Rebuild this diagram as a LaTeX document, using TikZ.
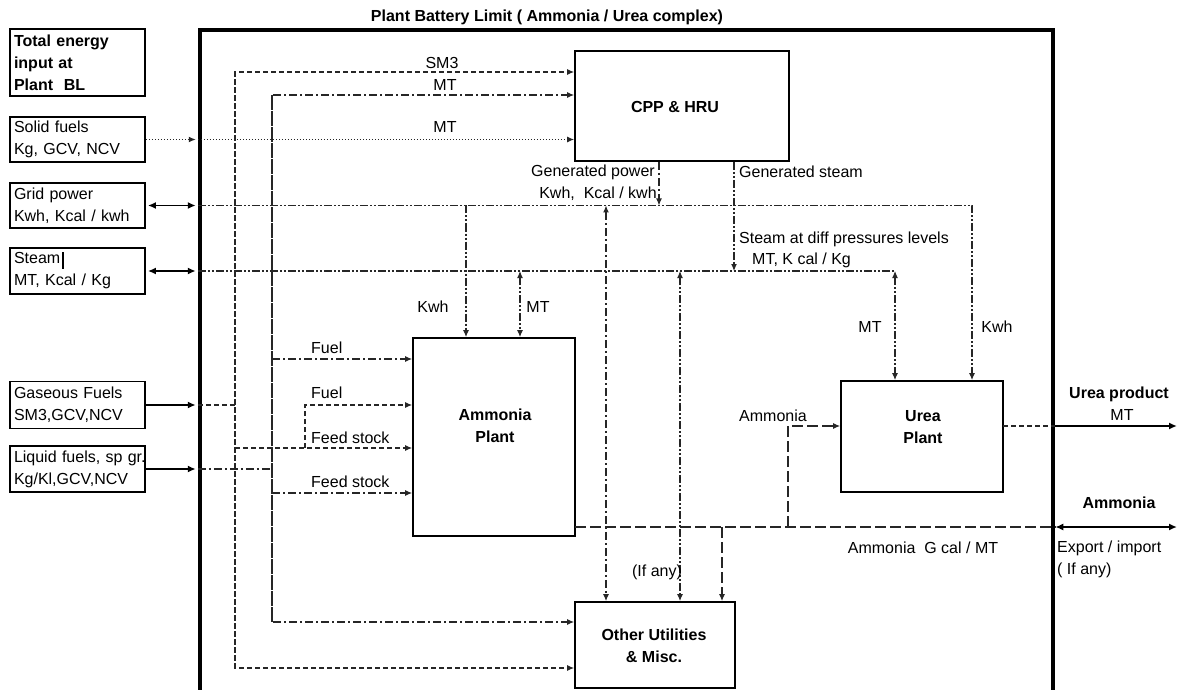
\documentclass[tikz,border=0pt]{standalone}
\usepackage{fontspec}
\setmainfont{Liberation Sans}
\usetikzlibrary{arrows.meta}
\begin{document}
\begin{tikzpicture}[x=1pt,y=-1pt,
  fs/.style={font=\fontsize{16}{22}\selectfont},
  fb/.style={font=\fontsize{16}{22}\selectfont\bfseries},
  lbox/.style={draw, line width=1.8pt, minimum width=135pt, text width=127pt, align=left, inner sep=4pt, fs},
  pbox/.style={draw, line width=1.8pt, inner sep=0pt},
  lbl/.style={fs, inner sep=0pt},
  bl/.style={fb, inner sep=0pt, align=center},
  con/.style={line width=1.1pt, draw=black!85},
  tip/.style={-{Latex[length=7pt,width=6pt]}},
  both/.style={{Latex[length=7pt,width=6pt]}-{Latex[length=7pt,width=6pt]}},
  dsh/.style={con, dash pattern=on 5pt off 3pt},
  dd/.style={con, dash pattern=on 8pt off 3pt on 2pt off 3pt},
  ddd/.style={con, dash pattern=on 8pt off 2pt on 2pt off 2pt on 2pt off 2pt},
  dots/.style={con, dash pattern=on 1.5pt off 1.5pt},
  ld/.style={con, dash pattern=on 11pt off 4pt},
  solidc/.style={line width=1.6pt, draw=black},
  bigtip/.style={-{Latex[length=8pt,width=7pt]}},
  bigboth/.style={{Latex[length=8pt,width=7pt]}-{Latex[length=8pt,width=7pt]}}
]
\useasboundingbox (0,0) rectangle (1179,690);

% battery limit
\node[draw, line width=4.5pt, minimum width=853pt, minimum height=680pt, inner sep=0pt] (blim) at (626.5,370) {};
\node[bl] (title) at (547,17) {Plant Battery Limit ( Ammonia / Urea complex)};

% left boxes
\node[lbox, minimum height=67pt, font=\fontsize{16}{22}\selectfont\bfseries] (tot) at (77.5,62.5) {Total energy\\input at\\Plant\ \ BL};
\node[lbox, minimum height=45pt] (solid) at (77.5,139.5) {Solid fuels\\Kg, GCV, NCV};
\node[lbox, minimum height=45pt] (grid) at (77.5,205.5) {Grid power\\Kwh, Kcal / kwh};
\node[lbox, minimum height=46pt] (steam) at (77.5,271) {Steam\\MT, Kcal / Kg};
\draw[line width=1.5pt] (63,252) -- (63,269);
\node[lbox, minimum height=47pt] (gas) at (77.5,405) {Gaseous Fuels\\SM3,GCV,NCV};
\node[lbox, minimum height=46pt] (liq) at (77.5,469) {\mbox{Liquid fuels, sp gr.}\\Kg/Kl,GCV,NCV};

% plant boxes
\node[pbox, minimum width=214pt, minimum height=110pt] (cpp) at (682,106) {};
\node[bl] (cppt) at (675,107) {CPP \& HRU};
\node[pbox, minimum width=162pt, minimum height=198pt] (amm) at (494,437) {};
\node[bl] (ammt) at (495,426) {Ammonia\\Plant};
\node[pbox, minimum width=162pt, minimum height=111pt] (urea) at (922,436.5) {};
\node[bl] (ureat) at (923,427) {Urea\\Plant};
\node[pbox, minimum width=160pt, minimum height=86pt] (ou) at (655,645) {};
\node[bl] (out) at (654,646) {Other Utilities\\\& Misc.};

% junction coordinates
\coordinate (A1) at (235,72);
\coordinate (A2) at (235,668);
\coordinate (Ag) at (235,405);
\coordinate (Af) at (235,448);
\coordinate (F1) at (305,448);
\coordinate (F2) at (305,405);
\coordinate (B1) at (272,95);
\coordinate (B2) at (272,622);
\coordinate (Bl) at (272,469);
\coordinate (Bf) at (272,359);
\coordinate (Bs) at (272,493);
\coordinate (G2) at (972,205.5);
\coordinate (S2) at (895,271);
\coordinate (Pw) at (659,205.5);
\coordinate (Sw) at (734,271);
\coordinate (Gk) at (466,205.5);
\coordinate (Sm) at (520,271);
\coordinate (Go) at (606,205.5);
\coordinate (So) at (680,271);
\coordinate (N) at (575,527);
\coordinate (Nu) at (788,527);
\coordinate (Nu2) at (788,426);
\coordinate (No) at (722,527);
\coordinate (Ne) at (1177,527);
\coordinate (U) at (1003,426);
\coordinate (Ue) at (1177,426);

% inputs at the left
\draw[dots, tip, shorten >=2pt] (solid.east) -- (blim.west |- solid.east);
\draw[solidc, bigboth, shorten <=2pt, shorten >=2pt] (grid.east) -- (blim.west |- grid.east);
\draw[solidc, bigboth, shorten <=2pt, shorten >=2pt] (steam.east) -- (blim.west |- steam.east);
\draw[solidc, bigtip, shorten >=2pt] (gas.east) -- (blim.west |- gas.east);
\draw[solidc, bigtip, shorten >=2pt] (liq.east) -- (blim.west |- liq.east);

% gaseous fuel distribution
\draw[dsh] (blim.west |- Ag) -- (Ag);
\draw[dsh, tip] (A2) -- (A1) -- (cpp.west |- A1);
\draw[dsh, tip] (A1) -- (A2) -- (ou.west |- A2);
\draw[dsh, tip] (Af) -- (amm.west |- Af);
\draw[dsh, tip] (F1) -- (F2) -- (amm.west |- F2);

% liquid fuel distribution
\draw[dd] (blim.west |- Bl) -- (Bl);
\draw[dd, tip] (B2) -- (B1) -- (cpp.west |- B1);
\draw[dd, tip] (B1) -- (B2) -- (ou.west |- B2);
\draw[dd, tip] (Bf) -- (amm.west |- Bf);
\draw[dd, tip] (Bs) -- (amm.west |- Bs);

% solid fuel
\draw[dots, tip] (blim.west |- solid.east) -- (cpp.west |- solid.east);

% power and steam headers
\draw[ddd, tip] (blim.west |- G2) -- (G2) -- (urea.north -| G2);
\draw[ddd] (blim.west |- S2) -- (S2);
\draw[ddd, both] (S2) -- (urea.north -| S2);
\draw[dd, tip] (cpp.south -| Pw) -- (Pw);
\draw[ddd, tip] (cpp.south -| Sw) -- (Sw);
\draw[ddd, tip] (Gk) -- (amm.north -| Gk);
\draw[ddd, both] (Sm) -- (amm.north -| Sm);
\draw[dd, both] (Go) -- (ou.north -| Go);
\draw[ddd, both] (So) -- (ou.north -| So);

% ammonia product
\draw[ld] (N) -- (blim.east |- N);
\draw[ld, tip] (Nu) -- (Nu2) -- (urea.west |- Nu2);
\draw[ld, tip] (No) -- (ou.north -| No);
\draw[solidc, bigboth] (blim.east |- N) -- (Ne);

% urea product
\draw[dsh] (U) -- (blim.east |- U);
\draw[solidc, bigtip] (blim.east |- U) -- (Ue);

% labels
\node[lbl] (l1) at (442,63) {SM3};
\node[lbl] (l2) at (445,85) {MT};
\node[lbl] (l3) at (445,127) {MT};
\node[lbl, anchor=east] (l4) at (655,172) {Generated power};
\node[lbl] (l5) at (598,194) {Kwh,\ \ Kcal / kwh};
\node[lbl, anchor=west] (l6) at (739,172) {Generated steam};
\node[lbl, anchor=west] (l7) at (739,239) {Steam at diff pressures levels};
\node[lbl, anchor=west] (l8) at (752,260) {MT, K cal / Kg};
\node[lbl] (l9) at (433,307) {Kwh};
\node[lbl] (l10) at (538,307) {MT};
\node[lbl] (l11) at (870,327) {MT};
\node[lbl] (l12) at (997,327) {Kwh};
\node[lbl, anchor=west] (l13) at (311,348) {Fuel};
\node[lbl, anchor=west] (l14) at (311,393) {Fuel};
\node[lbl, anchor=west] (l15) at (311,438) {Feed stock};
\node[lbl, anchor=west] (l16) at (311,482) {Feed stock};
\node[lbl] (l17) at (773,416) {Ammonia};
\node[lbl] (l18) at (923,548) {Ammonia\ \ G cal / MT};
\node[lbl] (l19) at (657,572) {(If any)};
\node[bl] (l20) at (1119,394) {Urea product};
\node[lbl] (l21) at (1122,415) {MT};
\node[bl] (l22) at (1119,503) {Ammonia};
\node[lbl, anchor=west] (l23) at (1057,548) {Export / import};
\node[lbl, anchor=west] (l24) at (1057,570) {( If any)};
\end{tikzpicture}
\end{document}
